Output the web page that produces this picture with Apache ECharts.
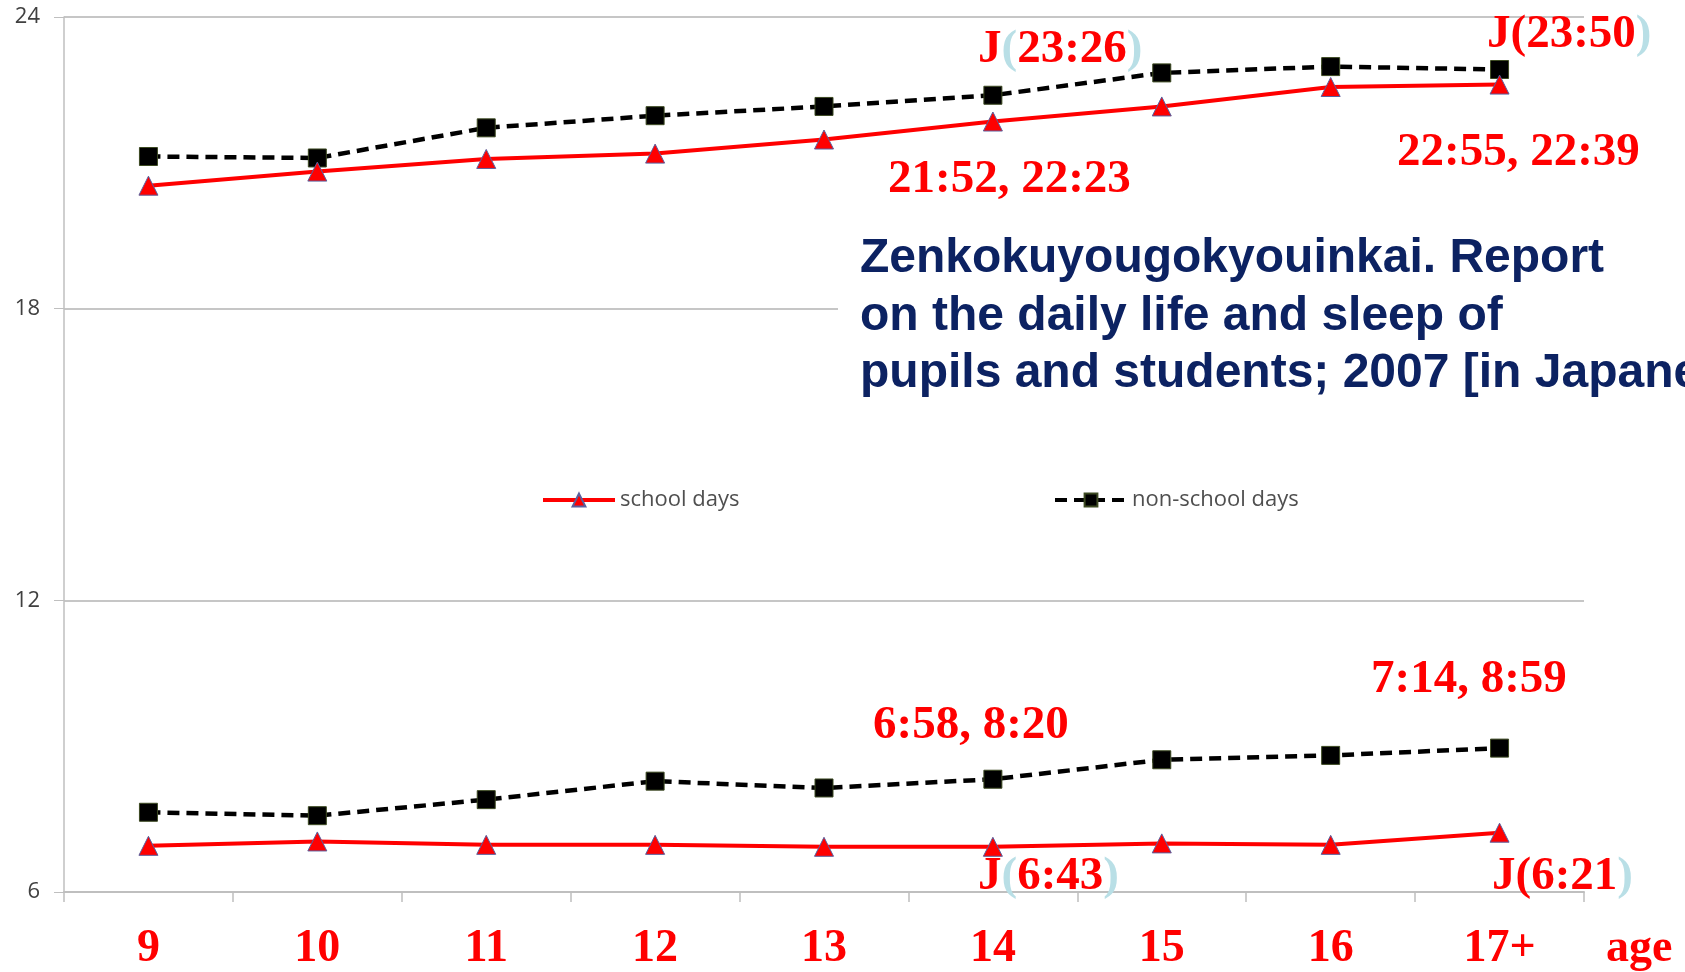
<!DOCTYPE html>
<html>
<head>
<meta charset="utf-8">
<title>Bed and wake times by age</title>
<script src="https://cdn.jsdelivr.net/npm/echarts@6/dist/echarts.min.js"></script>
<style>
  html, body { margin: 0; padding: 0; background: #fff; }
  #chart { width: 1685px; height: 972px; }
</style>
</head>
<body>
<div id="chart"></div>
<script>
// values (hours of the day)
const ages = ['9', '10', '11', '12', '13', '14', '15', '16', '17+']
const bedSchool = [20.53, 20.82, 21.08, 21.19, 21.48, 21.85, 22.16, 22.56, 22.61]
const bedNonSchool = [21.13, 21.10, 21.72, 21.97, 22.16, 22.39, 22.85, 22.98, 22.92]
const wakeSchool = [6.95, 7.04, 6.97, 6.97, 6.93, 6.93, 7.00, 6.97, 7.22]
const wakeNonSchool = [7.64, 7.57, 7.90, 8.28, 8.14, 8.32, 8.72, 8.81, 8.96]
const yRange = [6, 24]
const yStep = 6

const seriesNames = ['school days', 'non-school days']
const plainNotes = ['21:52, 22:23', '22:55, 22:39', '6:58, 8:20', '7:14, 8:59']
const japanNotes = ['23:26', '23:50', '6:43', '6:21']
const sourceLines = [
  'Zenkokuyougokyouinkai. Report',
  'on the daily life and sleep of',
  'pupils and students; 2007 [in Japanese]'
]

const RED = '#ff0000'
const PAREN = '#b9dfe6'
const noteFont = 'bold 47px "Liberation Serif", "Times New Roman", serif'

function note(text, x, y) {
  return {
    type: 'text', x, y, z: 120,
    style: { text, font: noteFont, fill: RED, align: 'left', verticalAlign: 'middle' }
  }
}

// J(hh:mm) with pale brackets, like the slide
function jNote(time, x, y, redOpen) {
  const tok = { fontSize: 47, fontWeight: 'bold', fontFamily: '"Liberation Serif", serif' }
  return {
    type: 'text', x, y, z: 120,
    style: {
      text: '{r|J}{' + (redOpen ? 'r' : 'c') + '|(}{r|' + time + '}{c|)}',
      font: noteFont, align: 'left', verticalAlign: 'middle',
      rich: { r: { ...tok, fill: RED }, c: { ...tok, fill: PAREN } }
    }
  }
}

const chart = echarts.init(document.getElementById('chart'))

const schoolStyle = {
  type: 'line',
  name: seriesNames[0],
  symbol: 'triangle',
  symbolSize: 19,
  lineStyle: { color: RED, width: 4 },
  itemStyle: { color: RED, borderColor: '#5a5f9e', borderWidth: 1 },
  z: 4
}
const nonSchoolStyle = {
  type: 'line',
  name: seriesNames[1],
  symbol: 'rect',
  symbolSize: 18,
  lineStyle: { color: '#000', width: 4.5, type: [12, 7] },
  itemStyle: { color: '#000', borderColor: '#3d4a22', borderWidth: 1 },
  z: 3
}

const legendBase = {
  top: 484,
  itemWidth: 72, itemHeight: 16, itemGap: 6,
  lineStyle: { width: 4 },
  textStyle: { color: '#4f4f4f', fontSize: 22, fontFamily: '"Open Sans", sans-serif' }
}

chart.setOption({
  backgroundColor: '#fff',
  animation: false,
  grid: { left: 64, right: 101, top: 17, bottom: 80 },
  legend: [
    { ...legendBase, data: [seriesNames[0]], left: 536 },
    { ...legendBase, data: [seriesNames[1]], left: 1048 }
  ],
  xAxis: {
    type: 'category',
    data: ages,
    boundaryGap: true,
    axisLine: { lineStyle: { color: '#bfbfbf', width: 2 } },
    axisTick: { show: true, length: 10, lineStyle: { color: '#bfbfbf', width: 1.5 } },
    axisLabel: {
      color: RED, fontSize: 46, fontWeight: 'bold',
      fontFamily: '"Liberation Serif", "Times New Roman", serif',
      margin: 34
    },
    splitLine: { show: false }
  },
  yAxis: {
    type: 'value',
    min: yRange[0],
    max: yRange[1],
    interval: yStep,
    axisLine: { show: true, lineStyle: { color: '#bfbfbf', width: 1.5 } },
    axisTick: { show: true, length: 10, lineStyle: { color: '#bfbfbf' } },
    axisLabel: { color: '#404040', fontSize: 22, fontFamily: '"Open Sans", sans-serif', margin: 24 },
    splitLine: { show: true, lineStyle: { color: '#c6c6c6', width: 2 } }
  },
  series: [
    { ...schoolStyle, data: bedSchool },
    { ...nonSchoolStyle, data: bedNonSchool },
    { ...schoolStyle, data: wakeSchool },
    { ...nonSchoolStyle, data: wakeNonSchool }
  ],
  graphic: [
    // white box holding the source note (hides the 18 grid line behind it)
    { type: 'rect', x: 838, y: 220, z: 110, shape: { width: 847, height: 182 }, style: { fill: '#fff' } },
    ...sourceLines.map((t, i) => ({
      type: 'text', x: 860, y: 259 + i * 57.5, z: 120,
      style: {
        text: t, fill: '#0c2262', align: 'left', verticalAlign: 'middle',
        font: 'bold 48px "Liberation Sans", Arial, sans-serif'
      }
    })),
    note(plainNotes[0], 888, 180),
    note(plainNotes[1], 1397, 153),
    note(plainNotes[2], 873, 726),
    note(plainNotes[3], 1371, 680),
    jNote(japanNotes[0], 978, 50, false),
    jNote(japanNotes[1], 1487, 35, true),
    jNote(japanNotes[2], 978, 877, false),
    jNote(japanNotes[3], 1492, 877, true),
    {
      type: 'text', x: 1606, y: 949, z: 120,
      style: { text: 'age', font: 'bold 46px "Liberation Serif", serif', fill: RED, align: 'left', verticalAlign: 'middle' }
    }
  ]
})
</script>
</body>
</html>
